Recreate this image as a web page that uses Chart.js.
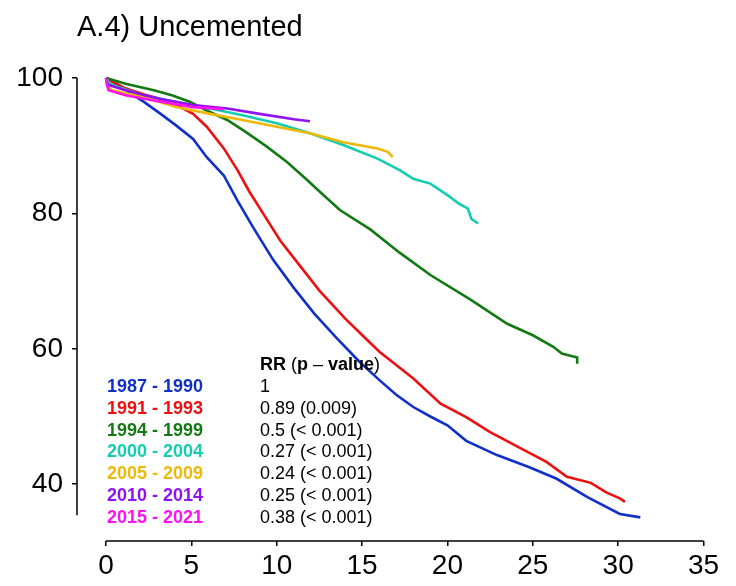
<!DOCTYPE html>
<html><head><meta charset="utf-8">
<script src="https://cdn.jsdelivr.net/npm/chart.js@4/dist/chart.umd.min.js"></script>
<style>html,body{margin:0;padding:0;background:#fff}canvas{display:block}</style>
</head><body>
<canvas id="c" width="736" height="586"></canvas>
<script>
const titleText = "A.4) Uncemented";
const periods = ["1987 - 1990","1991 - 1993","1994 - 1999","2000 - 2004","2005 - 2009","2010 - 2014","2015 - 2021"];
const rrLabels = ["1","0.89 (0.009)","0.5 (< 0.001)","0.27 (< 0.001)","0.24 (< 0.001)","0.25 (< 0.001)","0.38 (< 0.001)"];
const colors = ["#1030C8","#EE1010","#137913","#14CDB0","#EEB80A","#9012F0","#FF10EE"];
const xTicks = [0,5,10,15,20,25,30,35];
const yTicks = [40,60,80,100];
const yAxisExtent = [35.4, 100];

const t1987 = [0,0.5,1,1.5,2.2,3.2,4.1,5.1,5.9,6.9,7.7,8.6,9.8,11,12.2,13.5,14.8,16.05,17,18,19,20,21.1,22.9,24.8,26.4,28.2,30.1,31.3];
const s1987 = [100,99.3,98.6,97.6,96.5,94.7,93.0,91.0,88.3,85.6,81.9,78.0,73.1,69.0,65.2,61.6,58.2,55.3,53.2,51.4,50.0,48.7,46.4,44.3,42.5,40.8,38.1,35.6,35.1];
const t1991 = [0,1,2.2,3.75,5.1,5.9,6.9,7.7,8.4,9.2,10.2,11.1,12.5,14,15.3,16.05,17,18,19.6,21.1,22.5,24.3,25.8,27,28.4,29.3,30.1,30.4];
const s1991 = [100,98.6,97.6,96.5,94.7,92.8,89.6,86.4,83.2,80.0,76.0,73.1,68.6,64.5,61.3,59.5,57.6,55.6,51.9,49.9,47.7,45.3,43.3,41.1,40.2,38.8,37.9,37.4];
const t1994 = [0,1.2,2.8,3.9,4.9,5.9,7.1,8.2,9.4,10.6,11.75,12.7,13.7,15.5,17.2,19,21.4,23.5,25,26.2,26.7,27.6,27.6];
const s1994 = [100,99.1,98.2,97.4,96.5,95.2,93.8,92.0,89.9,87.6,85.0,82.8,80.5,77.6,74.2,70.9,67.2,63.7,62.0,60.3,59.3,58.7,57.8];
const t2000 = [0,0.15,0.45,2.2,4.1,6.1,8,10,12,13.9,15.9,17.2,18,19,20,20.7,21.2,21.4,21.8];
const s2000 = [100,99.3,98.9,97.4,96.5,95.5,94.5,93.3,91.8,90.1,88.1,86.4,85.1,84.4,82.7,81.4,80.7,79.2,78.5];
const t2005 = [0,0.1,0.35,2.2,4.1,6.1,8,10,12,13.9,15.9,16.5,16.8];
const s2005 = [100,98.8,98.2,97.2,95.7,94.7,93.8,92.8,91.8,90.5,89.6,89.1,88.3];
const t2010 = [0,0.1,1,2.2,3.2,5.1,7.1,9,11,11.95];
const s2010 = [100,99.0,98.3,97.5,96.9,96.0,95.5,94.7,93.9,93.6];
const t2015 = [0,0.05,0.15,1.2,3.2,5.1,6.9];
const s2015 = [100,99.0,98.2,97.4,96.5,95.7,95.4];

const seriesT = [t1987,t1991,t1994,t2000,t2005,t2010,t2015];
const seriesS = [s1987,s1991,s1994,s2000,s2005,s2010,s2015];

const FONT = '"Liberation Sans", Arial, sans-serif';

const datasets = periods.map((p,i)=>({
  label: p,
  data: seriesT[i].map((t,k)=>({x:t, y:seriesS[i][k]})),
  borderColor: colors[i],
  backgroundColor: colors[i],
  borderWidth: 2.6,
  pointRadius: 0,
  tension: 0,
  fill: false,
  clip: false,
  order: periods.length - i
}));

const decorPlugin = {
  id: 'decor',
  afterDatasetsDraw(chart){
    const {ctx, scales:{x,y}, chartArea} = chart;
    ctx.save();
    ctx.strokeStyle = '#000';
    ctx.lineWidth = 1.5;
    ctx.beginPath();
    ctx.moveTo(chartArea.left, y.getPixelForValue(yAxisExtent[0]));
    ctx.lineTo(chartArea.left, y.getPixelForValue(yAxisExtent[1]));
    ctx.moveTo(x.getPixelForValue(xTicks[0]), chartArea.bottom);
    ctx.lineTo(x.getPixelForValue(xTicks[xTicks.length-1]), chartArea.bottom);
    ctx.stroke();
    ctx.fillStyle = '#000';
    ctx.textBaseline = 'alphabetic';
    ctx.textAlign = 'left';
    ctx.font = '29px ' + FONT;
    ctx.fillText(titleText, 77, 36);
    ctx.textBaseline = 'middle';
    const x0 = 107, x1 = 260, yh = 365, y0 = 387, dy = 21.8;
    const parts = [["RR",true],[" (",false],["p",true],[" \u2013 ",false],["value",true],[")",false]];
    let cx = x1;
    parts.forEach(([s,b])=>{
      ctx.font = (b?'bold ':'') + '18px ' + FONT;
      ctx.fillText(s, cx, yh);
      cx += ctx.measureText(s).width;
    });
    periods.forEach((p,i)=>{
      ctx.font = 'bold 18px ' + FONT;
      ctx.fillStyle = colors[i];
      ctx.fillText(p, x0, y0 + dy*i);
      ctx.font = '18px ' + FONT;
      ctx.fillStyle = '#000';
      ctx.fillText(rrLabels[i], x1, y0 + dy*i);
    });
    ctx.restore();
  }
};

new Chart(document.getElementById('c'), {
  type: 'line',
  data: { datasets },
  plugins: [decorPlugin],
  options: {
    responsive: false,
    animation: false,
    layout: { padding: { top: 78, left: 0, right: 32.5, bottom: 0 } },
    plugins: { legend: { display: false }, tooltip: { enabled: false }, title: { display: false } },
    scales: {
      x: {
        type: 'linear',
        min: -1.7, max: 35,
        afterBuildTicks: s => { s.ticks = xTicks.map(v => ({value: v})); },
        afterFit: s => { s.height = 45; },
        grid: { display: true, drawOnChartArea: false, drawTicks: true, tickLength: 5, color: '#000', lineWidth: 1.5 },
        border: { display: false },
        ticks: { color: '#000', font: { size: 28, family: FONT }, padding: 3, maxRotation: 0, autoSkip: false }
      },
      y: {
        type: 'linear',
        min: 31.61, max: 100,
        afterBuildTicks: s => { s.ticks = yTicks.map(v => ({value: v})); },
        afterFit: s => { s.width = 77; },
        grid: { display: true, drawOnChartArea: false, drawTicks: true, tickLength: 5, color: '#000', lineWidth: 1.5 },
        border: { display: false },
        ticks: { color: '#000', font: { size: 28, family: FONT }, padding: 9, autoSkip: false }
      }
    }
  }
});
</script>
</body></html>
